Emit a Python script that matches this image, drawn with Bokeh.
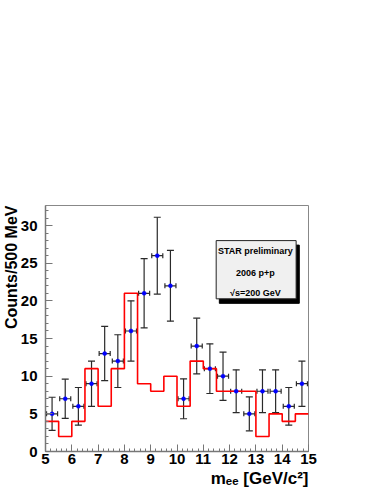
import math
from bokeh.plotting import figure
from bokeh.models import (ColumnDataSource, Whisker, TeeHead, Label, Title,
                          SingleIntervalTicker, Range1d)
from bokeh.embed import file_html
from bokeh.resources import INLINE

# ---- data ----
bin_edges = [5.0, 5.5, 6.0, 6.5, 7.0, 7.5, 8.0, 8.5, 9.0, 9.5, 10.0,
             10.5, 11.0, 11.5, 12.0, 12.5, 13.0, 13.5, 14.0, 14.5, 15.0]
bin_centers = [5.25, 5.75, 6.25, 6.75, 7.25, 7.75, 8.25, 8.75, 9.25, 9.75,
               10.25, 10.75, 11.25, 11.75, 12.25, 12.75, 13.25, 13.75, 14.25, 14.75]
signal_counts = [5, 7, 6, 9, 13, 12, 16, 21, 26, 22,
                 7, 14, 11, 10, 8, 5, 8, 8, 6, 9]
signal_errors = [2.2, 2.6, 2.5, 3.0, 3.6, 3.5, 4.0, 4.6, 5.1, 4.7,
                 2.65, 3.7, 3.3, 3.2, 2.85, 2.25, 2.85, 2.85, 2.5, 3.0]
background_counts = [4, 2, 4, 11, 6, 11, 21, 9, 8, 10,
                     6, 12, 11, 8, 8, 8, 2, 5, 4, 5]
x_half_width = 0.21
legend_lines = ["STAR preliminary", "2006 p+p", "\u221as=200 GeV"]
x_title = "m\u2091\u2091 [GeV/c\u00b2]"
y_title = "Counts/500 MeV"

# ---- figure ----
W, H = 382, 494
FL, FT, FW, FH = 45, 205, 263, 246
p = figure(width=W, height=H, output_backend="svg", toolbar_location=None,
           x_range=Range1d(5, 15), y_range=Range1d(0, 32.66),
           min_border_left=FL, min_border_right=W - FL - FW,
           min_border_top=FT, min_border_bottom=H - FT - FH)
p.frame_width = FW
p.frame_height = FH
p.background_fill_color = "white"
p.border_fill_color = "white"
p.outline_line_color = "#888888"
p.outline_line_width = 1
p.xgrid.visible = False
p.ygrid.visible = False

for ax in (p.xaxis[0], p.yaxis[0]):
    ax.axis_line_color = "#777777"
    ax.axis_line_width = 1.5
    ax.major_tick_line_color = "#777777"
    ax.minor_tick_line_color = "#777777"
    ax.major_tick_in = 7
    ax.major_tick_out = 0
    ax.minor_tick_in = 3
    ax.minor_tick_out = 0
    ax.major_label_text_font = "Liberation Sans"
    ax.major_label_text_font_style = "bold"
    ax.major_label_text_font_size = "15px"
    ax.major_label_text_color = "black"
    ax.axis_label = None

p.xaxis[0].ticker = SingleIntervalTicker(interval=1, num_minor_ticks=5)
p.yaxis[0].ticker = SingleIntervalTicker(interval=5, num_minor_ticks=5)
p.xaxis[0].major_label_standoff = 2
p.yaxis[0].major_label_standoff = 8

# axis titles as side-panel titles
p.add_layout(Title(text=x_title, align="right", standoff=0,
                   text_font="Liberation Sans", text_font_style="bold",
                   text_font_size="17px", text_color="black"), "below")
p.add_layout(Title(text=y_title, align="right", standoff=-4,
                   text_font="Liberation Sans", text_font_style="bold",
                   text_font_size="16px", text_color="black"), "left")

# histogram (red step)
step_y = background_counts + [background_counts[-1]]
p.step(x=bin_edges, y=step_y, mode="after", line_color="#ff0000", line_width=1.6)

# data points with error bars
src = ColumnDataSource(dict(
    x=bin_centers, y=signal_counts,
    lo=[c - e for c, e in zip(signal_counts, signal_errors)],
    hi=[c + e for c, e in zip(signal_counts, signal_errors)],
    xl=[c - x_half_width for c in bin_centers],
    xr=[c + x_half_width for c in bin_centers],
))
err_col = "#2a2a2a"
p.add_layout(Whisker(source=src, base="x", lower="lo", upper="hi",
                     line_color=err_col, line_width=1.2,
                     lower_head=TeeHead(size=7, line_color=err_col, line_width=1.2),
                     upper_head=TeeHead(size=7, line_color=err_col, line_width=1.2)))
p.add_layout(Whisker(source=src, base="y", lower="xl", upper="xr", dimension="width",
                     line_color=err_col, line_width=1.2,
                     lower_head=TeeHead(size=5, line_color=err_col, line_width=1.2),
                     upper_head=TeeHead(size=5, line_color=err_col, line_width=1.2)))
p.scatter(x="x", y="y", source=src, marker="circle", size=4,
          fill_color="#0000ff", line_color="#0000ff", line_width=0.5)

# text box with shadow
bx0, bx1, by0, by1 = 11.49, 14.53, 20.27, 28.0
p.quad(left=[bx0 + 0.12], right=[bx1 + 0.12], bottom=[by0 - 0.6], top=[by1 - 0.6],
       fill_color="black", line_color="black")
p.quad(left=[bx0], right=[bx1], bottom=[by0], top=[by1],
       fill_color="#f0f0f0", line_color="#222222", line_width=1)
for txt, yy in zip(legend_lines, [26.6, 23.7, 21.1]):
    p.add_layout(Label(x=12.98, y=yy, text=txt, text_align="center",
                       text_baseline="middle", text_font="Liberation Sans",
                       text_font_style="bold", text_font_size="9px",
                       text_color="black"))

open("out.html", "w").write(file_html(p, INLINE))
